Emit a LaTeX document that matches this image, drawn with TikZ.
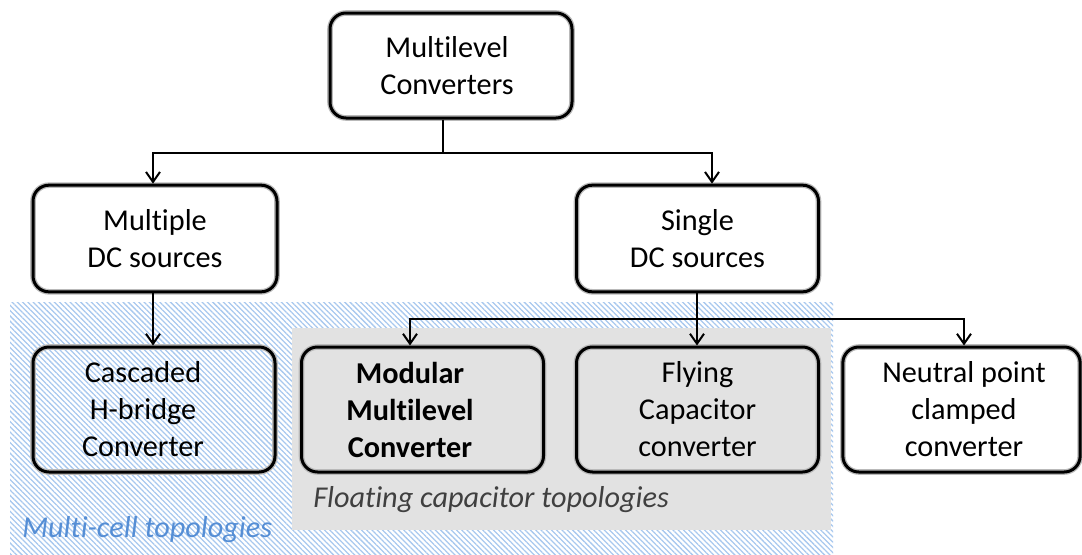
\documentclass[tikz,border=0pt]{standalone}
\usepackage{fontspec}
\setmainfont{Carlito}[Ligatures={NoCommon,NoRare}]
\usetikzlibrary{arrows.meta,patterns.meta,calc}
\definecolor{hatchblue}{RGB}{168,200,238}
\definecolor{dotgray}{RGB}{226,226,226}
\definecolor{labelblue}{RGB}{85,142,213}
\definecolor{labelgray}{RGB}{64,64,64}
\tikzset{
  boxfont/.style={font=\fontsize{22.7pt}{27.75pt}\selectfont},
  box/.style={draw=black, line width=2.25pt, rounded corners=12pt, align=center,
    inner sep=0pt, boxfont,
    preaction={draw=gray!55, line width=4.2pt}},
  txt/.style={align=center, inner sep=0pt, boxfont},
  conn/.style={line width=1.5pt, -{Straight Barb[length=7.5pt,width=10.5pt,line width=1.5pt]}},
  plain/.style={line width=1.5pt},
  tag/.style={font=\fontsize{22.7pt}{27pt}\selectfont\itshape, anchor=west, inner sep=0pt}
}
\begin{document}
\begin{tikzpicture}[x=0.75pt,y=-0.75pt]
\useasboundingbox (0,0) rectangle (1082,554);
% regions
\path[fill=white, pattern={Lines[angle=-45,distance=2.8pt,line width=0.95pt]}, pattern color=hatchblue]
  (10,302) rectangle (833,554);
\fill[dotgray] (292,328) rectangle (831,530);
\node[tag, text=labelblue] (mc) at (22,530) {Multi-cell topologies};
\node[tag, text=labelgray] (fc) at (313,500) {Floating capacitor topologies};
% boxes
\node[box, minimum width=181.5pt, minimum height=78.75pt] (top) at (451,65.5) {};
\node[txt] (topt) at (447,65.5) {Multilevel\\Converters};
\node[box, minimum width=183pt, minimum height=80pt] (multi) at (155,238.5) {Multiple\\DC sources};
\node[box, minimum width=181.5pt, minimum height=80pt] (single) at (697.5,238.5) {Single\\DC sources};
\node[box, minimum width=181.5pt, minimum height=93.75pt] (casc) at (154,409.5) {};
\node[txt] (casct) at (143,409.5) {Cascaded\\H-bridge\\Converter};
\node[box, minimum width=181.5pt, minimum height=93.75pt] (mmc) at (422.5,409.5) {};
\node[txt, font=\fontsize{22.7pt}{27.75pt}\selectfont\bfseries] (mmct) at (410,409.5) {Modular\\Multilevel\\Converter};
\node[box, minimum width=181.5pt, minimum height=93.75pt] (fly) at (697.5,409.5) {Flying\\Capacitor\\converter};
\node[box, minimum width=178pt, minimum height=93.75pt] (npc) at (961.5,409.5) {};
\node[txt] (npct) at (964,409.5) {Neutral point\\clamped\\converter};
% connectors
\coordinate (j1) at (443,153);
\coordinate (a1) at (153,0);
\coordinate (a2) at (712,0);
\coordinate (j2) at (697,319);
\coordinate (a3) at (410,0);
\coordinate (a4) at (964,0);
\draw[plain] (j1 |- top.south) -- (j1);
\draw[conn] (j1) -| (a1 |- multi.north);
\draw[conn] (j1) -| (a2 |- single.north);
\draw[conn] (a1 |- multi.south) -- (a1 |- casc.north);
\draw[conn] (j2 |- single.south) -- (j2 |- fly.north);
\draw[conn] (j2) -| (a3 |- mmc.north);
\draw[conn] (j2) -| (a4 |- npc.north);
\end{tikzpicture}
\end{document}
